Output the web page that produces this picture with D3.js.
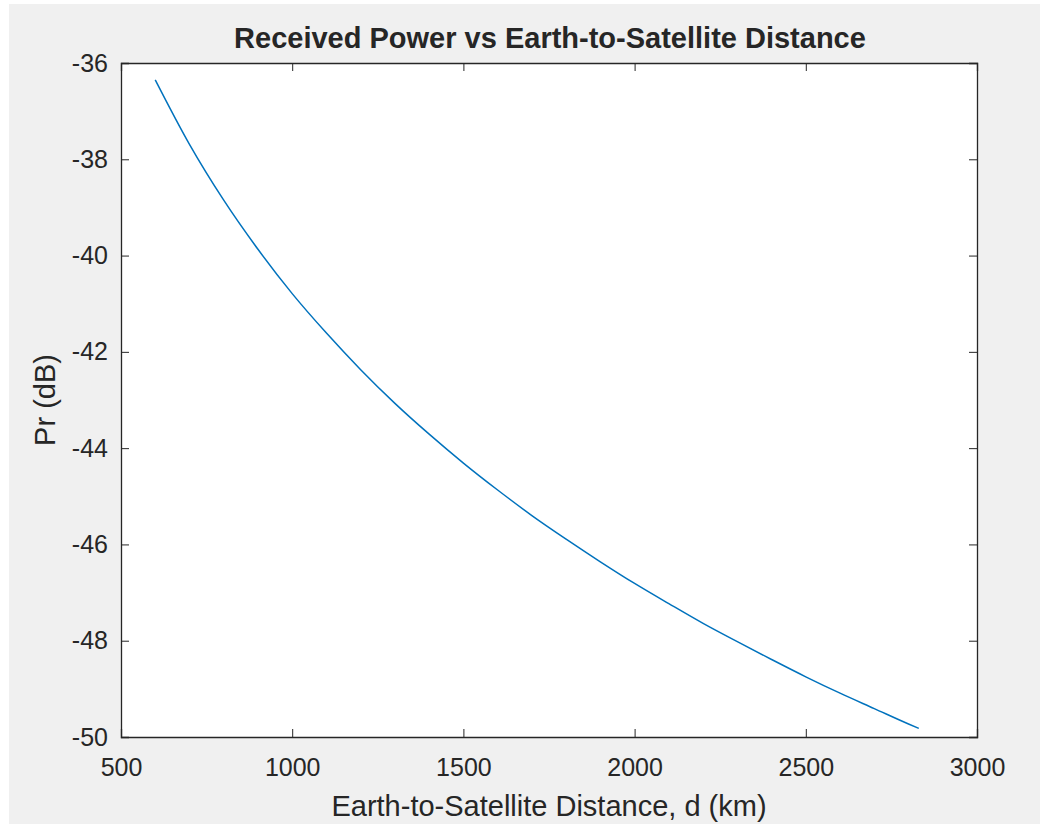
<!DOCTYPE html>
<html>
<head>
<meta charset="utf-8">
<script src="https://cdn.jsdelivr.net/npm/d3@7"></script>
<style>
  body { margin: 0; background: #fff; }
  svg { display: block; }
  text { font-family: "Liberation Sans", Arial, sans-serif; fill: #262626; }
</style>
</head>
<body>
<svg width="1040" height="824"></svg>
<script>
// distance d (km) and received power (dB)
var distance = [600, 700, 800, 900, 1000, 1100, 1200, 1300, 1400, 1500, 1600, 1700,
                1800, 1900, 2000, 2100, 2200, 2300, 2400, 2500, 2600, 2700, 2800, 2830];
var power = [-36.35, -37.69, -38.85, -39.87, -40.79, -41.61, -42.37, -43.07, -43.71, -44.31,
             -44.87, -45.40, -45.89, -46.36, -46.81, -47.23, -47.64, -48.02, -48.39, -48.75,
             -49.09, -49.41, -49.73, -49.82];
var xTicks = [500, 1000, 1500, 2000, 2500, 3000];
var yTicks = [-36, -38, -40, -42, -44, -46, -48, -50];

var svg = d3.select("svg"),
    width = +svg.attr("width"),
    height = +svg.attr("height");

var plotL = 121, plotR = 977, plotT = 63, plotB = 737;
var tickLen = 8;
var axisColor = "#262626";

svg.append("rect")
    .attr("x", 9).attr("y", 4)
    .attr("width", width - 9).attr("height", height - 4)
    .attr("fill", "#f0f0f0");

var x = d3.scaleLinear().domain([500, 3000]).range([plotL, plotR]);
var y = d3.scaleLinear().domain([-50, -36]).range([plotB, plotT]);

svg.append("rect")
    .attr("x", plotL).attr("y", plotT)
    .attr("width", plotR - plotL).attr("height", plotB - plotT)
    .attr("fill", "white");

var pts = distance.map((d, i) => [d, power[i]]);

svg.append("path")
    .datum(pts)
    .attr("fill", "none")
    .attr("stroke", "#0072BD")
    .attr("stroke-width", 1.5)
    .attr("d", d3.line()
      .x(d => x(d[0]))
      .y(d => y(d[1]))
      .curve(d3.curveMonotoneX));

// axes, matlab style: ticks inside, box on
var gx = svg.append("g")
    .attr("transform", "translate(0," + plotB + ")")
    .call(d3.axisBottom(x).tickValues(xTicks).tickSize(-tickLen).tickPadding(21).tickFormat(d3.format("d")));
var gxTop = svg.append("g")
    .attr("transform", "translate(0," + plotT + ")")
    .call(d3.axisTop(x).tickValues(xTicks).tickSize(-tickLen).tickFormat(""));
var gy = svg.append("g")
    .attr("transform", "translate(" + plotL + ",0)")
    .call(d3.axisLeft(y).tickValues(yTicks).tickSize(-tickLen).tickPadding(13).tickFormat(d => "-" + Math.abs(d)));
var gyRight = svg.append("g")
    .attr("transform", "translate(" + plotR + ",0)")
    .call(d3.axisRight(y).tickValues(yTicks).tickSize(-tickLen).tickFormat(""));

[gx, gxTop, gy, gyRight].forEach(function(g) {
    g.select(".domain").attr("stroke", axisColor).attr("stroke-width", 1.3);
    g.selectAll(".tick line").attr("stroke", axisColor).attr("stroke-width", 1);
    g.selectAll("text")
      .attr("fill", axisColor)
      .style("font-family", "'Liberation Sans', Arial, sans-serif")
      .style("font-size", "25px");
});

svg.append("text")
    .attr("x", (plotL + plotR) / 2 + 1)
    .attr("y", 48)
    .attr("text-anchor", "middle")
    .style("font-size", "29px")
    .style("font-weight", "bold")
    .attr("fill", "#000")
    .text("Received Power vs Earth-to-Satellite Distance");

svg.append("text")
    .attr("x", (plotL + plotR) / 2)
    .attr("y", 816)
    .attr("text-anchor", "middle")
    .style("font-size", "29px")
    .text("Earth-to-Satellite Distance, d (km)");

svg.append("text")
    .attr("transform", "translate(55," + ((plotT + plotB) / 2) + ") rotate(-90)")
    .attr("text-anchor", "middle")
    .style("font-size", "29px")
    .text("Pr (dB)");
</script>
</body>
</html>
